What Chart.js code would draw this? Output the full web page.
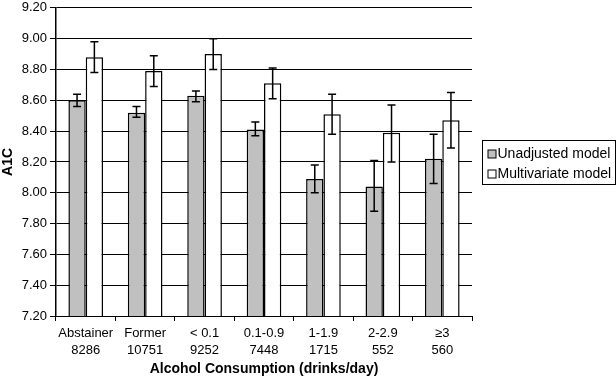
<!DOCTYPE html>
<html>
<head>
<meta charset="utf-8">
<script src="https://cdn.jsdelivr.net/npm/chart.js@4/dist/chart.umd.min.js"></script>
<style>
  html, body { margin: 0; padding: 0; background: #fff; }
  #wrap { width: 616px; height: 378px; position: relative; }
</style>
</head>
<body>
<div id="wrap"><canvas id="c"></canvas></div>
<script>
const categories = [['Abstainer','8286'], ['Former','10751'], ['< 0.1','9252'], ['0.1-0.9','7448'], ['1-1.9','1715'], ['2-2.9','552'], ['\u22653','560']];
const seriesNames = ['Unadjusted model', 'Multivariate model'];
const unadjusted = [8.60, 8.52, 8.63, 8.41, 8.09, 8.04, 8.22];
const unadjustedLow = [8.56, 8.49, 8.59, 8.37, 8.00, 7.88, 8.06];
const unadjustedHigh = [8.64, 8.56, 8.66, 8.46, 8.18, 8.21, 8.38];
const multivariate = [8.88, 8.79, 8.90, 8.71, 8.51, 8.39, 8.47];
const multivariateLow = [8.78, 8.69, 8.80, 8.61, 8.38, 8.20, 8.29];
const multivariateHigh = [8.98, 8.89, 9.00, 8.81, 8.64, 8.57, 8.65];
const yMin = 7.2, yMax = 9.2, yStep = 0.2;
const xTitle = 'Alcohol Consumption (drinks/day)';
const yTitle = 'A1C';

const FONT = "'Liberation Sans', Arial, sans-serif";
const errorLows = [unadjustedLow, multivariateLow];
const errorHighs = [unadjustedHigh, multivariateHigh];

const errorBars = {
  id: 'errorBars',
  afterDatasetsDraw(chart) {
    const ctx = chart.ctx;
    const ys = chart.scales.y;
    ctx.save();
    ctx.strokeStyle = '#000';
    ctx.lineWidth = 1.5;
    chart.data.datasets.forEach((ds, di) => {
      const meta = chart.getDatasetMeta(di);
      meta.data.forEach((bar, j) => {
        const x = bar.x;
        const y1 = ys.getPixelForValue(errorLows[di][j]);
        const y2 = ys.getPixelForValue(errorHighs[di][j]);
        ctx.beginPath();
        ctx.moveTo(x, y1); ctx.lineTo(x, y2);
        ctx.moveTo(x - 4, y1); ctx.lineTo(x + 4, y1);
        ctx.moveTo(x - 4, y2); ctx.lineTo(x + 4, y2);
        ctx.stroke();
      });
    });
    ctx.restore();
  }
};

const boxLegend = {
  id: 'boxLegend',
  afterDraw(chart) {
    const ctx = chart.ctx;
    const a = chart.chartArea;
    const left = a.right + 10.5;
    const cy = (a.top + a.bottom) / 2;
    const top = Math.round(cy - 22) + 0.5;
    ctx.save();
    ctx.strokeStyle = '#000';
    ctx.lineWidth = 1;
    ctx.strokeRect(left, top, 133, 44);
    ctx.font = '14px ' + FONT;
    ctx.textBaseline = 'middle';
    ctx.fillStyle = '#000';
    chart.data.datasets.forEach((ds, i) => {
      const yc = top + 13.5 + i * 20;
      ctx.fillStyle = ds.backgroundColor;
      ctx.fillRect(left + 5.5, yc - 4, 8, 8);
      ctx.strokeRect(left + 5.5, yc - 4, 8, 8);
      ctx.fillStyle = '#000';
      ctx.fillText(ds.label, left + 15, yc + 0.5);
    });
    ctx.restore();
  }
};

new Chart(document.getElementById('c'), {
  type: 'bar',
  data: {
    labels: categories,
    datasets: [
      { label: seriesNames[0], data: unadjusted, backgroundColor: '#c0c0c0', borderColor: '#000', borderWidth: 1.5 },
      { label: seriesNames[1], data: multivariate, backgroundColor: '#ffffff', borderColor: '#000', borderWidth: 1.5 }
    ]
  },
  options: {
    responsive: true,
    maintainAspectRatio: false,
    animation: false,
    layout: { padding: { left: 0, right: 144, top: 0, bottom: 0 } },
    plugins: { legend: { display: false }, tooltip: { enabled: false } },
    datasets: { bar: { categoryPercentage: 0.583, barPercentage: 1.0 } },
    scales: {
      x: {
        offset: true,
        grid: {
          offset: true,
          drawOnChartArea: true,
          color: (c) => (c.index === categories.length ? '#000' : 'rgba(0,0,0,0)'),
          tickColor: '#000',
          tickLength: 5,
          lineWidth: 1
        },
        border: { display: true, color: '#000', width: 1 },
        ticks: { color: '#000', font: { family: FONT, size: 13, lineHeight: 1.3 }, padding: 4, maxRotation: 0, autoSkip: false },
        title: { display: true, text: xTitle, color: '#000', font: { family: FONT, size: 14, weight: 'bold', lineHeight: 1.2 }, padding: 0 },
        afterFit(s) { s.height = 62; }
      },
      y: {
        min: yMin, max: yMax,
        grid: { color: '#000', lineWidth: 1, tickLength: 6, tickColor: '#000' },
        border: { display: true, color: '#000', width: 1.5 },
        ticks: { stepSize: yStep, color: '#000', padding: 3, font: { family: FONT, size: 13, lineHeight: 0.75 },
                 callback: (v) => Number(v).toFixed(2) },
        title: { display: true, text: yTitle, color: '#000', font: { family: FONT, size: 14, weight: 'bold', lineHeight: 1.2 }, padding: 0 },
        afterFit(s) { s.width = 56; }
      }
    }
  },
  plugins: [errorBars, boxLegend]
});
</script>
</body>
</html>
